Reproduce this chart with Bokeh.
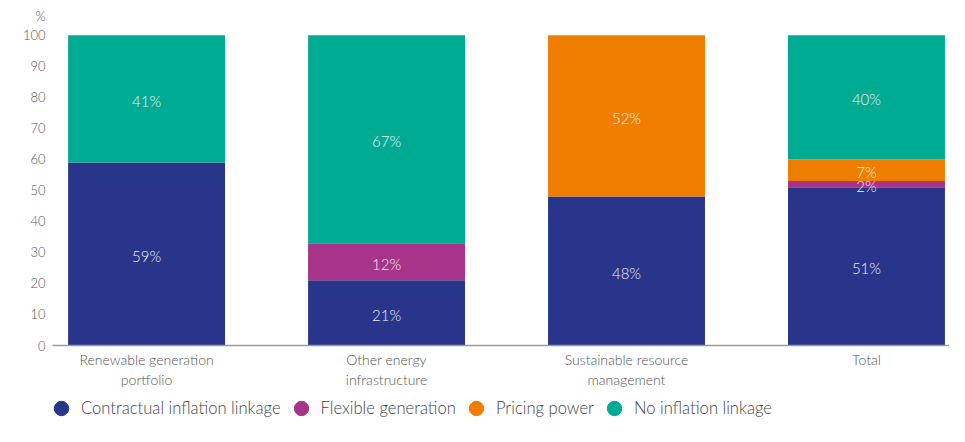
from bokeh.plotting import figure
from bokeh.layouts import column
from bokeh.models import ColumnDataSource, FixedTicker, Legend, LegendItem
from bokeh.core.properties import value
from bokeh.embed import file_html
from bokeh.resources import INLINE

categories = ["Renewable generation\nportfolio", "Other energy\ninfrastructure",
              "Sustainable resource\nmanagement", "Total"]
series = ["Contractual inflation linkage", "Flexible generation", "Pricing power", "No inflation linkage"]
contractual = [59, 21, 48, 51]
flexible = [0, 12, 0, 2]
pricing = [0, 0, 52, 7]
no_linkage = [41, 67, 0, 40]
y_ticks = list(range(0, 101, 10))

colors = ["#29358a", "#a8348a", "#ef7d00", "#00ab94"]
FONT = "Lato Light, Lato"
TXT = "#555555"

xs = list(range(len(categories)))
keys = ["c", "f", "p", "n"]
data = dict(x=xs, c=contractual, f=flexible, p=pricing, n=no_linkage)
src = ColumnDataSource(data)

p = figure(width=949, height=390, x_range=(-0.392, 3.346), y_range=(0, 102.2),
           output_backend="svg", toolbar_location=None,
           min_border_left=52, min_border_right=0, min_border_top=28, min_border_bottom=40)
p.xgrid.visible = False
p.ygrid.visible = False
p.outline_line_color = None

p.title.text = "%"
p.title.align = "left"
p.title.offset = -17
p.title.standoff = 9
p.title.text_font = FONT
p.title.text_font_style = "normal"
p.title.text_font_size = "13px"
p.title.text_color = TXT

p.vbar_stack(keys, x="x", width=0.654, source=src, color=colors, line_width=0)

# segment labels
lx, ly, lt = [], [], []
for i in xs:
    base = 0
    for arr in (contractual, flexible, pricing, no_linkage):
        v = arr[i]
        if v > 0:
            lx.append(i)
            ly.append(base + v / 2)
            lt.append(f"{v}%")
        base += v
lsrc = ColumnDataSource(dict(x=lx, y=ly, t=lt))
p.text(x="x", y="y", text="t", source=lsrc, text_align="center", text_baseline="middle",
       text_color="#eef0f6", text_font=value(FONT), text_font_size="15px", y_offset=2)

xa = p.xaxis[0]
xa.ticker = FixedTicker(ticks=xs)
xa.major_label_overrides = {i: c for i, c in zip(xs, categories)}
xa.axis_line_color = "#9a9a9a"
xa.axis_line_width = 1.5
xa.major_tick_line_color = None
xa.minor_tick_line_color = None
xa.major_tick_out = 0
xa.major_tick_in = 0
xa.minor_tick_out = 0
xa.major_label_text_font = FONT
xa.major_label_text_font_size = "14px"
xa.major_label_text_color = TXT
xa.major_label_standoff = 5

ya = p.yaxis[0]
ya.ticker = FixedTicker(ticks=y_ticks)
ya.axis_line_color = None
ya.major_tick_line_color = None
ya.minor_tick_line_color = None
ya.major_tick_out = 0
ya.major_tick_in = 0
ya.minor_tick_out = 0
ya.major_label_text_font = FONT
ya.major_label_text_font_size = "13px"
ya.major_label_text_color = TXT
ya.major_label_standoff = 7

# legend in a small companion figure
lf = figure(width=949, height=36, x_range=(0, 1), y_range=(0, 1),
            output_backend="svg", toolbar_location=None,
            x_axis_location=None, y_axis_location=None,
            min_border_left=0, min_border_right=0, min_border_top=0, min_border_bottom=0)
lf.xgrid.visible = False
lf.ygrid.visible = False
lf.outline_line_color = None
nan = float("nan")
rends = [lf.scatter(x=[nan], y=[nan], marker="circle", size=16, color=c) for c in colors]
legend = Legend(items=[LegendItem(label=s, renderers=[r]) for s, r in zip(series, rends)],
                orientation="horizontal", location=(-11, 0),
                glyph_width=40, glyph_height=36, label_standoff=-8, spacing=-5,
                padding=0, margin=0, border_line_color=None, background_fill_alpha=0,
                label_text_font=FONT, label_text_font_size="16.6px", label_text_color="#444444")
lf.add_layout(legend)

layout = column(p, lf, spacing=0)
open("out.html", "w").write(file_html(layout, INLINE))
